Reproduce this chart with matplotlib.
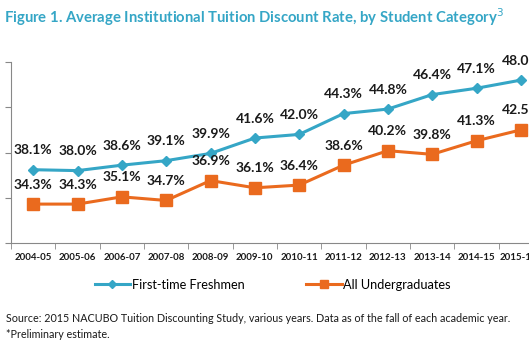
import matplotlib
matplotlib.use("Agg")
import matplotlib.pyplot as plt
import numpy as np

years = ["2004-05", "2005-06", "2006-07", "2007-08", "2008-09", "2009-10",
         "2010-11", "2011-12", "2012-13", "2013-14", "2014-15", "2015-16*"]
freshmen = [38.1, 38.0, 38.6, 39.1, 39.9, 41.6, 42.0, 44.3, 44.8, 46.4, 47.1, 48.0]
undergrads = [34.3, 34.3, 35.1, 34.7, 36.9, 36.1, 36.4, 38.6, 40.2, 39.8, 41.3, 42.5]

BLUE = "#35A6C6"
ORANGE = "#EA6A1E"
TEXT = "#1a1a1a"

plt.rcParams["font.family"] = ["Lato", "DejaVu Sans"]

fig = plt.figure(figsize=(5.29, 3.53), dpi=100)
ax = fig.add_axes([0.0208, 0.3116, 1.0057, 0.5127])

x = np.arange(len(years))
ax.plot(x, freshmen, color=BLUE, lw=2.2, marker="D", ms=5.5, label="First-time Freshmen")
ax.plot(x, undergrads, color=ORANGE, lw=2.2, marker="s", ms=8, label="All Undergraduates")

# data labels above each point
for series in (freshmen, undergrads):
    for xi, v in zip(x, series):
        ax.annotate(f"{v:.1f}%", (xi, v), xytext=(0, 14), textcoords="offset points",
                    ha="center", va="center", fontsize=10, fontweight="bold", color=TEXT)

ax.set_xlim(-0.5, len(years) - 0.5)
ax.set_ylim(30, 50)
ax.set_yticks([30, 35, 40, 45, 50])
ax.set_yticklabels([])
ax.tick_params(axis="y", length=4, color="#888888")

ax.set_xticks(x)
ax.set_xticklabels(years, fontsize=7, fontweight="bold", color=TEXT)
ax.set_xticks(np.arange(len(years) + 1) - 0.5, minor=True)
ax.tick_params(axis="x", which="major", length=0, pad=7)
ax.tick_params(axis="x", which="minor", length=4, color="#888888")

for s in ["top", "right"]:
    ax.spines[s].set_visible(False)
for s in ["left", "bottom"]:
    ax.spines[s].set_color("#888888")

fig.text(0.008, 0.952, "Figure 1. Average Institutional Tuition Discount Rate, by Student Category$^{3}$",
         fontsize=10.7, fontweight="bold", color=BLUE, va="center", ha="left")

fig.legend(loc="center", bbox_to_anchor=(0.515, 0.193), ncol=2, frameon=False,
           fontsize=9.2, handlelength=2.8, handletextpad=0.1, columnspacing=4.8,
           markerscale=0.75)

fig.text(0.012, 0.099, "Source: 2015 NACUBO Tuition Discounting Study, various years. Data as of the fall of each academic year.",
         fontsize=7.75, color=TEXT, va="center")
fig.text(0.012, 0.051, "*Preliminary estimate.", fontsize=7.75, color=TEXT, va="center")

fig.savefig("out.png", dpi=100)
